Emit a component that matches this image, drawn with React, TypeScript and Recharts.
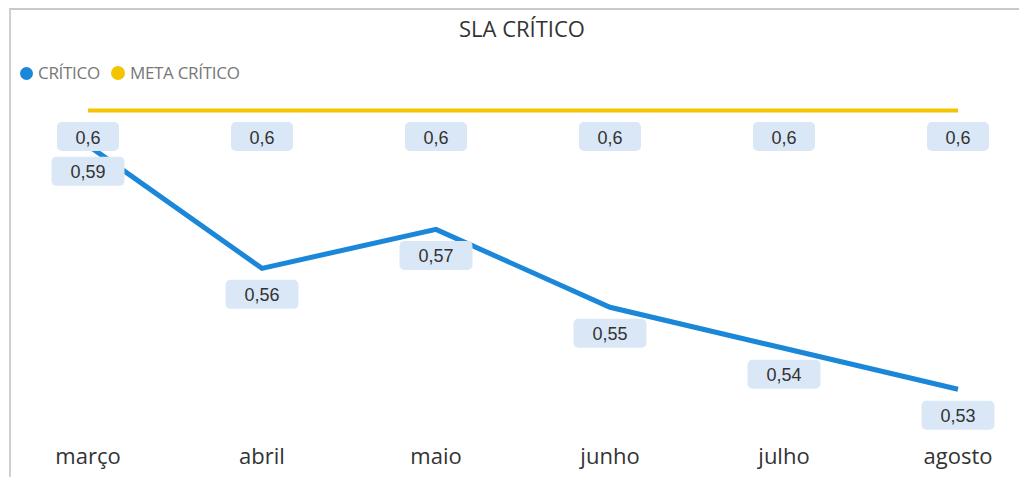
import React from "react";
import { LineChart, Line, XAxis, YAxis, LabelList } from "recharts";

const months = ["março", "abril", "maio", "junho", "julho", "agosto"];
const critico = [0.5915, 0.5615, 0.571, 0.552, 0.542, 0.532];
const metaCritico = [0.6, 0.6, 0.6, 0.6, 0.6, 0.6];

const BLUE = "#1b87d9";
const YELLOW = "#f5c400";

const data = months.map((m, i) => ({
  month: m,
  critico: critico[i],
  meta: metaCritico[i],
}));

function fmt(v: number) {
  return String(Math.round(v * 100) / 100).replace(".", ",");
}

// rounded light-blue box under each point
function ValueBox(props: any) {
  const { x, y, value } = props;
  const text = fmt(value);
  const w = text.length * 11 + 29;
  const h = 29;
  const cy = y + 26;
  return (
    <g>
      <rect x={x - w / 2} y={cy - h / 2} width={w} height={h} rx={5} fill="#dae7f6" />
      <text
        x={x}
        y={cy + 1}
        textAnchor="middle"
        dominantBaseline="central"
        fontFamily="'Liberation Sans', Arial, sans-serif"
        fontSize={18}
        fill="#333"
      >
        {text}
      </text>
    </g>
  );
}

function MonthTick(props: any) {
  const { x, y, payload } = props;
  return (
    <text
      x={x}
      y={y + 29}
      textAnchor="middle"
      dominantBaseline="central"
      fontFamily="'Open Sans', sans-serif"
      fontSize={22}
      fill="#333"
    >
      {payload.value}
    </text>
  );
}

export default function App() {
  return (
    <div
      style={{
        position: "absolute",
        left: 0,
        top: 0,
        width: 1019,
        height: 477,
        background: "#fff",
        overflow: "hidden",
        fontFamily: "'Open Sans', sans-serif",
      }}
    >
      <div
        style={{
          position: "absolute",
          left: 9,
          top: 8,
          width: 1030,
          height: 490,
          borderTop: "2px solid #c9c9c9",
          borderLeft: "2px solid #cfcfcf",
        }}
      />
      <div
        style={{
          position: "absolute",
          left: 0,
          width: 1044,
          top: 13,
          textAlign: "center",
          fontSize: 22,
          color: "#333",
          lineHeight: "30px",
        }}
      >
        SLA CRÍTICO
      </div>
      <div
        style={{
          position: "absolute",
          left: 20,
          top: 62,
          display: "flex",
          alignItems: "center",
          fontSize: 17,
          color: "#777",
          lineHeight: "22px",
          letterSpacing: -0.3,
        }}
      >
        <span style={{ width: 13, height: 13, borderRadius: "50%", background: BLUE, marginRight: 5 }} />
        <span style={{ marginRight: 11 }}>CRÍTICO</span>
        <span style={{ width: 14, height: 14, borderRadius: "50%", background: YELLOW, marginRight: 5 }} />
        <span>META CRÍTICO</span>
      </div>
      <div style={{ position: "absolute", left: 0, top: 0 }}>
        <LineChart
          width={1019}
          height={477}
          data={data}
          margin={{ top: 90, right: 61, bottom: 29, left: 88 }}
        >
          <XAxis
            dataKey="month"
            axisLine={false}
            tickLine={false}
            interval={0}
            height={30}
            tick={<MonthTick />}
          />
          <YAxis hide domain={[0.525, 0.605]} />
          <Line
            dataKey="meta"
            stroke={YELLOW}
            strokeWidth={4}
            dot={false}
            activeDot={false}
            isAnimationActive={false}
          >
            <LabelList dataKey="meta" content={<ValueBox />} />
          </Line>
          <Line
            dataKey="critico"
            stroke={BLUE}
            strokeWidth={5}
            dot={false}
            activeDot={false}
            isAnimationActive={false}
          >
            <LabelList dataKey="critico" content={<ValueBox />} />
          </Line>
        </LineChart>
      </div>
    </div>
  );
}
